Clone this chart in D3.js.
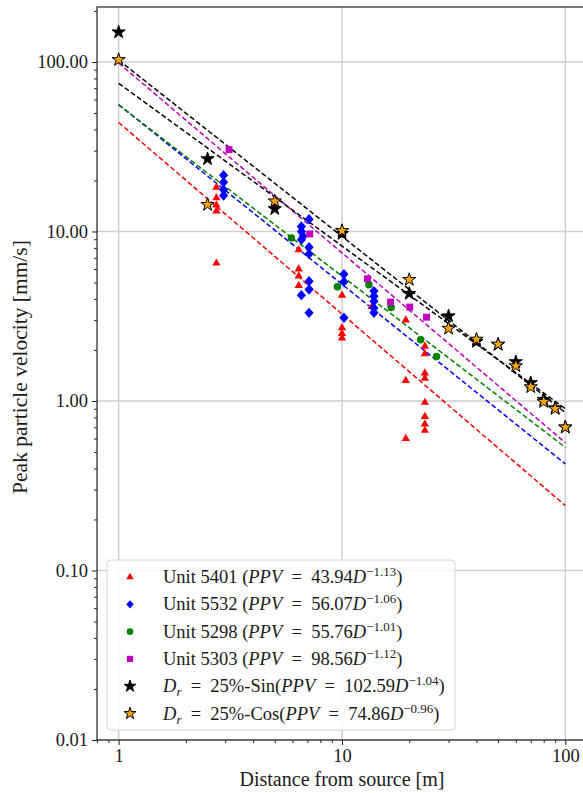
<!DOCTYPE html>
<html>
<head>
<meta charset="utf-8">
<script src="https://cdn.jsdelivr.net/npm/d3@7"></script>
<style>
  html, body { margin: 0; padding: 0; background: #fff; }
  svg { display: block; }
  text { font-family: "Liberation Serif", "DejaVu Serif", serif; fill: #1a1a1a; }
</style>
</head>
<body>
<svg id="chart" width="583" height="793"></svg>
<script>
// Unit 5401 (red triangles)
const dist5401 = [2.74, 2.74, 2.74, 2.74, 2.74, 6.4, 6.4, 6.4, 6.4, 10, 10, 10, 10, 13.6, 19.3, 19.3, 19.3, 23.5, 23.5, 23.5, 23.5, 23.5, 23.5, 23.5, 23.5];
const ppv5401  = [18.2, 15.8, 14.3, 13.2, 6.5, 7.8, 6.0, 5.45, 4.8, 4.2, 2.7, 2.5, 2.35, 3.6, 3.0, 1.32, 0.6, 2.1, 1.9, 1.46, 1.36, 0.98, 0.81, 0.73, 0.67];
// Unit 5532 (blue diamonds)
const dist5532 = [2.95, 2.95, 2.95, 2.95, 7.12, 6.58, 6.58, 6.7, 6.58, 7.12, 7.12, 7.12, 7.12, 6.58, 7.12, 10.2, 10.2, 10.2, 13.9, 13.9, 13.9, 13.9, 13.9];
const ppv5532  = [21.5, 19.5, 17.6, 16.3, 11.8, 10.7, 10.0, 9.36, 8.95, 8.08, 7.37, 5.09, 4.55, 4.21, 3.31, 5.6, 5.05, 3.1, 4.45, 4.15, 3.88, 3.54, 3.31];
// Unit 5298 (green circles)
const dist5298 = [5.94, 9.54, 13.2, 16.6, 22.5, 26.5];
const ppv5298  = [9.16, 4.72, 4.85, 3.56, 2.3, 1.83];
// Unit 5303 (magenta squares)
const dist5303 = [3.12, 7.17, 13.0, 16.5, 20.1, 23.9];
const ppv5303  = [30.4, 9.67, 5.25, 3.83, 3.58, 3.12];
// Simulated cases, Dr = 25 %
const distSim = [1, 2.5, 5, 10, 20, 30, 40, 50, 60, 70, 80, 90, 100];
const ppvSin  = [150, 26.8, 13.6, 9.7, 4.3, 3.17, 2.24, 2.15, 1.7, 1.28, 1.02, 0.91, 0.7];
const ppvCos  = [103, 14.4, 15.1, 10.1, 5.2, 2.68, 2.31, 2.16, 1.61, 1.21, 0.99, 0.9, 0.7];
// Power-law fits PPV = a * D^(-b)
const fitA = [43.94, 56.07, 55.76, 98.56, 102.59, 74.86];
const fitB = [1.13, 1.06, 1.01, 1.12, 1.04, 0.96];
const fitRange = [1, 100];
// Axis ticks
const xTicks = [1, 10, 100];
const yTicks = [0.01, 0.1, 1, 10, 100];

const svg = d3.select("#chart");
const plotL = 97, plotT = 7, plotR = 587, plotB = 740;

const x = d3.scaleLog().domain([0.8, 125]).range([plotL, plotR]);
const y = d3.scaleLog().domain([0.01, 211]).range([plotB, plotT]);

// grid
const grid = svg.append("g").attr("stroke", "#cfcfcf").attr("stroke-width", 1.5);
xTicks.forEach(t => grid.append("line").attr("x1", x(t)).attr("x2", x(t)).attr("y1", plotT).attr("y2", plotB));
yTicks.forEach(t => grid.append("line").attr("x1", plotL).attr("x2", plotR).attr("y1", y(t)).attr("y2", y(t)));

// minor tick values
const minorY = [];
[0.01, 0.1, 1, 10, 100].forEach(d => { for (let k = 2; k <= 9; k++) { const v = d * k; if (v < 211) minorY.push(v); } });
const minorX = [0.8, 0.9];
[1, 10, 100].forEach(d => { for (let k = 2; k <= 9; k++) { const v = d * k; if (v < 125) minorX.push(v); } });

// axes
const xAxis = svg.append("g").attr("transform", `translate(0,${plotB})`)
  .call(d3.axisBottom(x).tickValues(xTicks).tickFormat(d3.format("d")).tickSize(5).tickPadding(4));
svg.append("g").attr("transform", `translate(0,${plotB})`)
  .call(d3.axisBottom(x).tickValues(minorX).tickFormat("").tickSize(3))
  .call(g => g.select(".domain").remove());
const yAxis = svg.append("g").attr("transform", `translate(${plotL},0)`)
  .call(d3.axisLeft(y).tickValues(yTicks).tickFormat(d3.format(".2f")).tickSize(5).tickPadding(4));
svg.append("g").attr("transform", `translate(${plotL},0)`)
  .call(d3.axisLeft(y).tickValues(minorY).tickFormat("").tickSize(3))
  .call(g => g.select(".domain").remove());

svg.selectAll(".tick text").attr("font-family", "Liberation Serif, DejaVu Serif, serif").attr("font-size", 18.5).attr("fill", "#1a1a1a");
svg.selectAll(".tick line").attr("stroke", "#222").attr("stroke-width", 1);
xAxis.select(".domain").remove();
yAxis.select(".domain").remove();

// frame
svg.append("rect").attr("x", plotL).attr("y", plotT).attr("width", plotR - plotL).attr("height", plotB - plotT)
  .attr("fill", "none").attr("stroke", "#222").attr("stroke-width", 1.2);

// fit lines
const fitColors = ["#ff0000", "#0000ff", "#008000", "#bf00bf", "#000000", "#000000"];
const line = d3.line().x(d => x(d[0])).y(d => y(d[1]));
fitA.forEach((a, i) => {
  const pts = fitRange.map(D => [D, a * Math.pow(D, -fitB[i])]);
  svg.append("path").attr("d", line(pts)).attr("fill", "none")
    .attr("stroke", fitColors[i]).attr("stroke-width", 1.5).attr("stroke-dasharray", "5,2.6");
});

// marker shapes
const shapes = {
  tri: s => d3.symbol(d3.symbolTriangle, 30 * s)(),
  dia: s => { const w = 4.6 * s, h = 5.2 * s; return `M0,${-h}L${w},0L0,${h}L${-w},0Z`; },
  circ: s => d3.symbol(d3.symbolCircle, 44 * s)(),
  sq: s => d3.symbol(d3.symbolSquare, 48 * s)(),
  star: s => d3.symbol(d3.symbolStar, 54 * s)()
};

function scatter(ds, vs, shape, fill, stroke, sw) {
  svg.append("g").selectAll("path").data(ds.map((d, i) => [d, vs[i]])).join("path")
    .attr("d", shapes[shape](1))
    .attr("transform", d => `translate(${x(d[0])},${y(d[1])})`)
    .attr("fill", fill).attr("stroke", stroke).attr("stroke-width", sw);
}
scatter(dist5401, ppv5401, "tri", "#ff0000", "none", 0);
scatter(dist5532, ppv5532, "dia", "#0000ff", "none", 0);
scatter(dist5298, ppv5298, "circ", "#008000", "none", 0);
scatter(dist5303, ppv5303, "sq", "#bf00bf", "none", 0);
scatter(distSim, ppvSin, "star", "#000000", "#000000", 1);
scatter(distSim, ppvCos, "star", "#ffa500", "#000000", 1);

// axis titles
svg.append("text").attr("x", 342).attr("y", 786).attr("text-anchor", "middle")
  .attr("font-size", 20).text("Distance from source [m]");
svg.append("text").attr("transform", `translate(27,367) rotate(-90)`)
  .attr("text-anchor", "middle").attr("font-size", 21.5).text("Peak particle velocity [mm/s]");

// legend
const legend = svg.append("g");
legend.append("rect").attr("x", 107).attr("y", 560).attr("width", 348).attr("height", 170).attr("rx", 4)
  .attr("fill", "#fff").attr("fill-opacity", 0.85).attr("stroke", "#d6d6d6").attr("stroke-width", 1);

const eq = "\u2002=\u2002";
const entries = [
  { shape: "tri", fill: "#ff0000", stroke: "none", pre: "Unit 5401 (", a: "43.94", b: "1.13", unit: true },
  { shape: "dia", fill: "#0000ff", stroke: "none", pre: "Unit 5532 (", a: "56.07", b: "1.06", unit: true },
  { shape: "circ", fill: "#008000", stroke: "none", pre: "Unit 5298 (", a: "55.76", b: "1.01", unit: true },
  { shape: "sq", fill: "#bf00bf", stroke: "none", pre: "Unit 5303 (", a: "98.56", b: "1.12", unit: true },
  { shape: "star", fill: "#000000", stroke: "#000000", tail: "-Sin(", a: "102.59", b: "1.04", unit: false },
  { shape: "star", fill: "#ffa500", stroke: "#000000", tail: "-Cos(", a: "74.86", b: "0.96", unit: false }
];
entries.forEach((e, i) => {
  const cy = 577 + i * 27.3;
  legend.append("path").attr("d", shapes[e.shape](0.8)).attr("transform", `translate(130,${cy})`)
    .attr("fill", e.fill).attr("stroke", e.stroke).attr("stroke-width", 1);
  const t = legend.append("text").attr("x", 163).attr("y", cy + 6).attr("font-size", 18.5);
  if (e.unit) {
    t.append("tspan").text(e.pre);
  } else {
    t.append("tspan").attr("font-style", "italic").text("D");
    t.append("tspan").attr("font-style", "italic").attr("font-size", 13).attr("dy", 4).text("r");
    t.append("tspan").attr("dy", -4).text(eq + "25%" + e.tail);
  }
  t.append("tspan").attr("font-style", "italic").text("PPV");
  t.append("tspan").text(eq + e.a);
  t.append("tspan").attr("font-style", "italic").text("D");
  t.append("tspan").attr("font-size", 13).attr("dy", -7).text("\u2212" + e.b);
  t.append("tspan").attr("dy", 7).text(")");
});
</script>
</body>
</html>
